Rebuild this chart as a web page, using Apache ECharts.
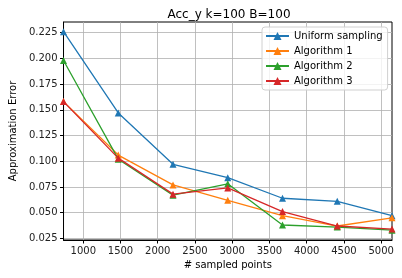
<!DOCTYPE html>
<html>
<head>
<meta charset="utf-8">
<script src="https://cdn.jsdelivr.net/npm/echarts@6/dist/echarts.min.js"></script>
<style>html,body{margin:0;padding:0;background:#fff}#c{width:402px;height:278px}</style>
</head>
<body>
<div id="c"></div>
<script>
var xValues = [735, 1470, 2205, 2940, 3675, 4410, 5145];
var uniform = [0.226, 0.147, 0.097, 0.084, 0.064, 0.061, 0.047];
var alg1 = [0.158, 0.106, 0.077, 0.062, 0.047, 0.037, 0.045];
var alg2 = [0.198, 0.102, 0.067, 0.078, 0.038, 0.036, 0.033];
var alg3 = [0.158, 0.103, 0.068, 0.074, 0.051, 0.037, 0.034];
var xTicks = [1000, 1500, 2000, 2500, 3000, 3500, 4000, 4500, 5000];
var yTicks = [0.025, 0.05, 0.075, 0.1, 0.125, 0.15, 0.175, 0.2, 0.225];
var seriesNames = ['Uniform sampling', 'Algorithm 1', 'Algorithm 2', 'Algorithm 3'];
var colors = ['#1f77b4', '#ff7f0e', '#2ca02c', '#d62728'];

function pairs(ys) { return xValues.map(function (x, i) { return [x, ys[i]]; }); }
var all = [uniform, alg1, alg2, alg3];
var font = 'DejaVu Sans';
var chart = echarts.init(document.getElementById('c'), null, {renderer: 'canvas'});
chart.setOption({
  animation: false,
  backgroundColor: '#fff',
  title: {text: 'Acc_y k=100 B=100', left: 224, top: 4, textAlign: 'center',
    textStyle: {fontFamily: font, fontSize: 12, fontWeight: 'normal', color: '#000'}},
  grid: {left: 57, right: 10, top: 22, bottom: 38, show: true, borderColor: '#000', borderWidth: 1, containLabel: false},
  legend: {
    orient: 'vertical', left: 262, top: 27,
    itemWidth: 23, itemHeight: 10, itemGap: 5,
    padding: [4, 5, 4, 3],
    borderColor: '#d0d0d0', borderWidth: 1, borderRadius: 3,
    backgroundColor: 'rgba(255,255,255,0.8)',
    textStyle: {fontFamily: font, fontSize: 10, color: '#000'},
    data: seriesNames
  },
  xAxis: {
    type: 'value', min: 735, max: 5145,
    name: '# sampled points', nameLocation: 'middle', nameGap: 20,
    nameTextStyle: {fontFamily: font, fontSize: 10, color: '#000'},
    axisLine: {show: true, lineStyle: {color: '#000', width: 1}},
    axisTick: {show: true, length: 3.5, customValues: xTicks, lineStyle: {color: '#000'}},
    axisLabel: {customValues: xTicks, margin: 6, fontFamily: font, fontSize: 10, color: '#222',
      formatter: function (v) { return String(v); }},
    splitLine: {show: true, lineStyle: {color: '#b0b0b0', width: 0.8}}
  },
  yAxis: {
    type: 'value', min: 0.0234, max: 0.2354,
    name: 'Approximation Error', nameLocation: 'middle', nameGap: 41,
    nameTextStyle: {fontFamily: font, fontSize: 10, color: '#000'},
    axisLine: {show: true, lineStyle: {color: '#000', width: 1}},
    axisTick: {show: true, length: 3.5, customValues: yTicks, lineStyle: {color: '#000'}},
    axisLabel: {customValues: yTicks, margin: 6, fontFamily: font, fontSize: 10, color: '#222',
      formatter: function (v) { return v.toFixed(3); }},
    splitLine: {show: true, lineStyle: {color: '#b0b0b0', width: 0.8}}
  },
  series: seriesNames.map(function (n, i) {
    return {
      name: n, type: 'line', data: pairs(all[i]),
      symbol: 'triangle', symbolSize: 7, showSymbol: true,
      itemStyle: {color: colors[i]},
      lineStyle: {color: colors[i], width: 1.3},
      clip: true, z: 2 + i
    };
  })
});
</script>
</body>
</html>
